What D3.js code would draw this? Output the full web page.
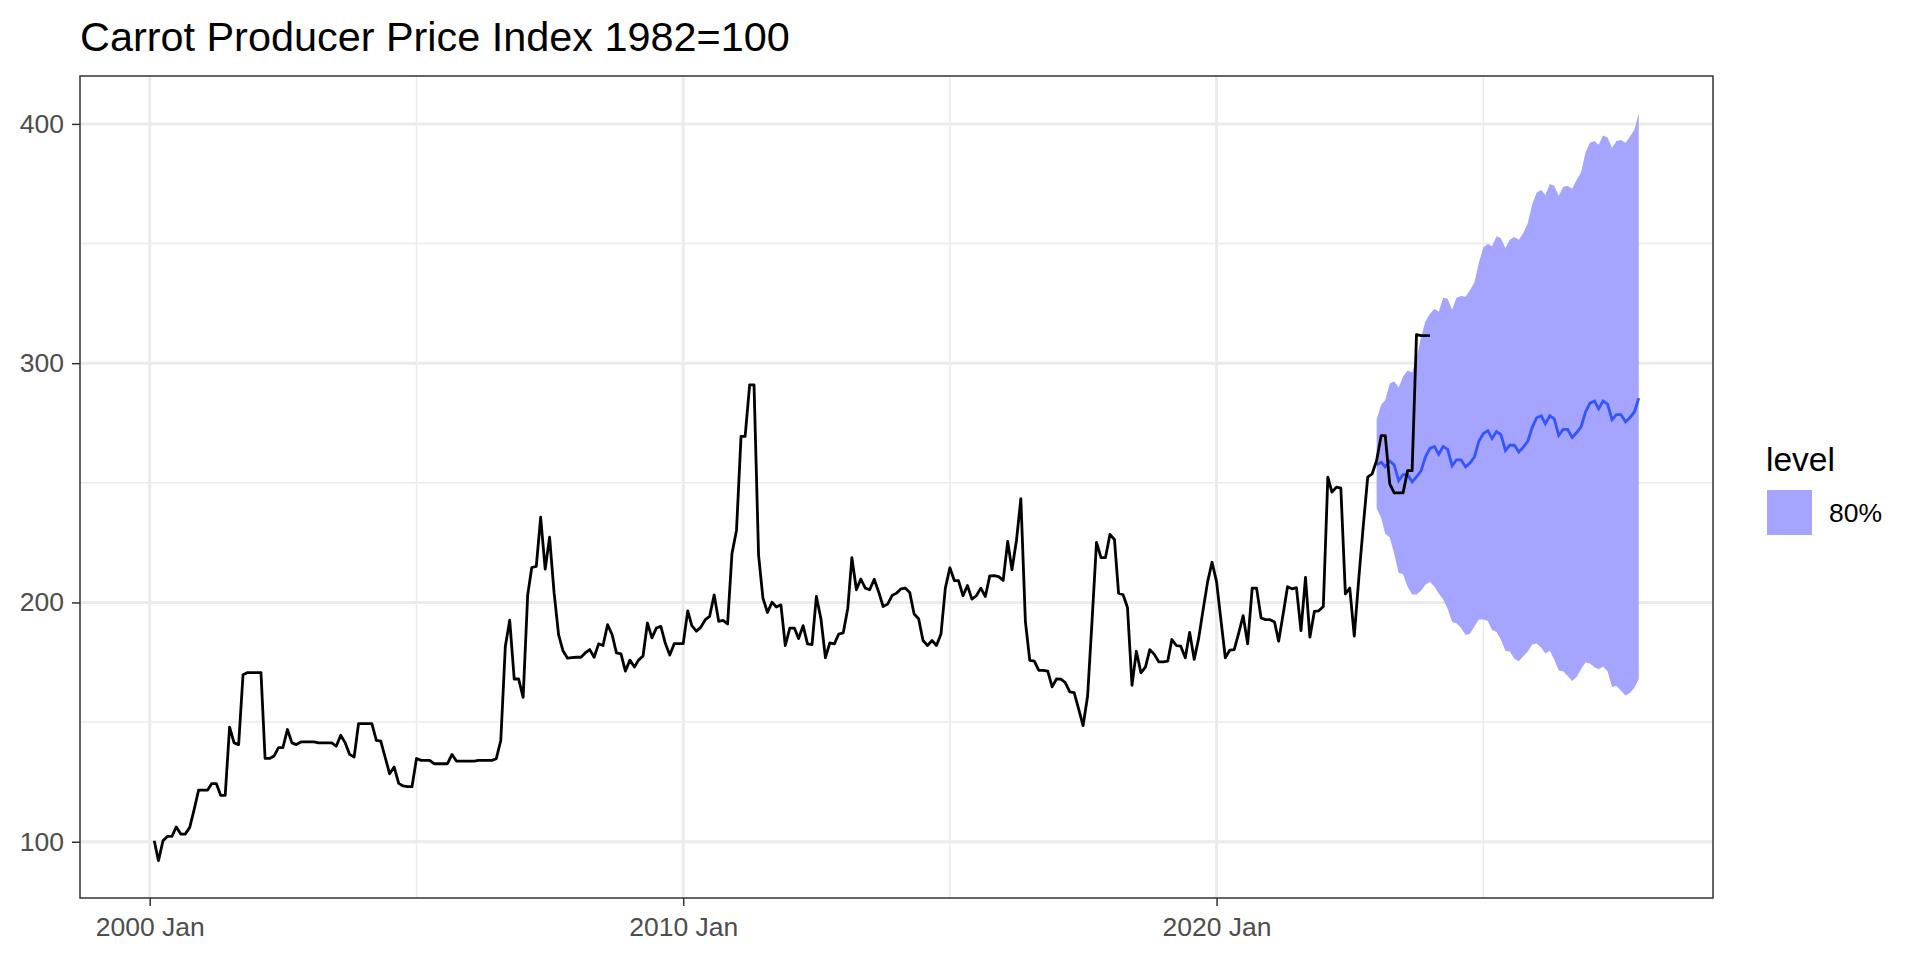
<!DOCTYPE html>
<html>
<head>
<meta charset="utf-8">
<script src="https://cdn.jsdelivr.net/npm/d3@7"></script>
<style>
  body { margin: 0; background: #fff; }
  text { font-family: "Liberation Sans", Arial, sans-serif; }
</style>
</head>
<body>
<svg id="chart" width="1920" height="960"></svg>
<script>
'use strict';

// Observed index, monthly, first value is 2000 Feb
var priceStart = '2000-02';
var priceValues = [
  100.4, 92.1, 100.4, 102.2, 102.2, 106.2, 103.2, 103.2, 106.0, 113.6,
  121.6, 121.6, 121.6, 124.3, 124.3, 119.4, 119.4, 147.9, 141.3, 140.6,
  169.8, 170.7, 170.7, 170.7, 170.7, 134.8, 134.8, 135.8, 139.3, 139.3,
  146.9, 141.3, 140.6, 141.7, 141.7, 141.7, 141.7, 141.3, 141.3, 141.3,
  141.3, 139.9, 144.5, 141.3, 136.5, 135.4, 149.4, 149.4, 149.4, 149.4,
  142.4, 142.0, 135.1, 128.4, 131.2, 124.4, 123.3, 123.0, 123.0, 134.8,
  134.0, 134.0, 134.0, 132.6, 132.6, 132.6, 132.6, 136.5, 133.7, 133.7,
  133.7, 133.7, 133.7, 134.0, 134.0, 134.0, 134.0, 134.7, 142.3, 181.6,
  192.6, 168.0, 168.0, 160.3, 203.0, 214.6, 215.1, 235.6, 213.9, 227.3,
  204.0, 186.4, 179.8, 176.7, 176.9, 177.1, 177.1, 178.9, 180.3, 177.1,
  182.7, 182.0, 190.7, 186.6, 178.9, 178.5, 171.3, 175.9, 173.0, 175.9,
  177.6, 191.4, 185.2, 189.3, 190.0, 182.8, 178.0, 182.8, 182.8, 182.8,
  196.5, 190.3, 188.0, 189.6, 192.8, 194.2, 203.2, 192.1, 192.5, 191.0,
  220.5, 230.2, 269.4, 269.4, 290.9, 290.9, 219.8, 201.8, 195.8, 200.1,
  198.1, 199.0, 182.0, 189.3, 189.3, 184.9, 190.3, 182.7, 182.4, 202.5,
  193.2, 176.9, 183.1, 182.7, 186.8, 187.3, 197.6, 218.7, 205.3, 209.8,
  206.0, 205.3, 209.7, 204.3, 198.3, 199.3, 202.9, 203.9, 205.7, 206.0,
  204.2, 195.2, 193.2, 184.1, 182.0, 184.1, 182.0, 186.8, 206.0, 214.5,
  209.1, 209.1, 202.8, 207.1, 201.4, 202.8, 206.0, 202.5, 211.1, 211.2,
  210.8, 209.2, 225.5, 213.6, 226.0, 243.4, 192.1, 175.8, 175.5, 171.6,
  171.6, 171.3, 164.7, 168.1, 167.9, 166.5, 162.6, 162.3, 155.4, 148.5,
  160.9, 192.8, 225.1, 218.7, 218.7, 228.4, 226.3, 203.9, 203.2, 197.9,
  165.4, 179.6, 170.6, 173.0, 180.3, 178.3, 175.2, 175.2, 175.5, 184.5,
  182.0, 181.7, 176.9, 187.5, 176.2, 185.2, 197.0, 208.7, 216.8, 208.7,
  192.1, 176.9, 180.1, 180.3, 187.3, 194.5, 182.7, 206.0, 206.0, 193.5,
  192.8, 192.8, 191.8, 183.8, 195.2, 206.6, 205.7, 206.2, 188.2, 210.5,
  185.5, 196.3, 196.5, 198.3, 252.4, 246.1, 248.2, 247.8, 203.6, 206.0,
  185.9, 210.1, 231.6, 252.4, 253.7, 259.3, 269.7, 269.7, 249.6, 245.8,
  245.8, 245.8, 255.1, 255.1, 311.9, 311.5, 311.5, 311.5
];

// Forecast, monthly from 2023 Jan to 2027 Dec
var forecastStart = '2023-01';
var forecastMean = [
  257.5, 258.6, 256.7, 259.1, 257.5, 250.9, 253.4, 253.4, 250.4, 252.5, 255.0, 260.8,
  264.4, 265.2, 261.9, 265.2, 264.0, 257.1, 259.6, 259.6, 256.7, 258.3, 260.8, 267.3,
  270.6, 271.8, 268.5, 271.4, 270.1, 263.5, 265.7, 265.7, 262.9, 264.9, 267.3, 273.1,
  277.2, 278.0, 274.7, 278.0, 276.7, 269.8, 272.3, 272.3, 269.0, 270.9, 273.4, 279.6,
  283.3, 284.2, 280.9, 284.2, 282.9, 276.4, 278.5, 278.5, 275.5, 277.2, 279.6, 285.4
];
// 80% interval
var forecastLower = [
  239.4, 235.3, 228.7, 227.1, 220.5, 212.3, 211.8, 206.6, 203.3, 203.3, 204.9, 207.4,
  208.7, 206.6, 203.8, 201.2, 197.5, 191.8, 191.3, 189.3, 186.4, 186.9, 190.1, 192.9,
  192.9, 192.3, 188.5, 187.7, 184.4, 179.8, 179.5, 176.5, 175.4, 177.5, 179.5, 182.4,
  182.8, 181.1, 178.7, 179.8, 176.2, 171.6, 171.3, 169.3, 167.2, 168.8, 172.1, 174.9,
  174.5, 172.9, 172.1, 173.2, 171.3, 164.7, 165.2, 163.1, 161.1, 162.2, 164.4, 168.0
];
var forecastUpper = [
  276.4, 282.6, 284.6, 291.5, 292.4, 289.8, 294.4, 296.9, 296.1, 301.8, 310.8, 317.4,
  320.7, 322.7, 321.5, 327.3, 326.9, 322.3, 327.3, 328.1, 327.8, 330.5, 333.8, 342.0,
  348.3, 349.9, 348.9, 353.0, 352.2, 348.1, 351.6, 352.7, 351.6, 354.4, 358.5, 366.3,
  371.3, 372.4, 370.3, 374.9, 374.1, 370.0, 373.6, 374.1, 372.9, 376.5, 379.8, 388.0,
  392.1, 392.9, 391.3, 395.1, 394.3, 390.0, 392.9, 393.3, 392.1, 394.6, 397.5, 404.4
];

var xMajorTicks = ['2000-01', '2010-01', '2020-01'];
var xMinorTicks = ['2005-01', '2015-01', '2025-01'];
var yMajorTicks = [100, 200, 300, 400];
var yMinorTicks = [150, 250, 350];
var levels = ['80%'];

var chartTitle = 'Carrot Producer Price Index 1982=100';

(function() {
  var parseMonth = d3.utcParse('%Y-%m');

  // Build the rows with one date per month
  var t0 = parseMonth(priceStart);
  var price = priceValues.map(function(v, i) {
    return { date: d3.utcMonth.offset(t0, i), value: v };
  });
  var f0 = parseMonth(forecastStart);
  var forecast = forecastMean.map(function(v, i) {
    return { date: d3.utcMonth.offset(f0, i), mean: v, lo: forecastLower[i], hi: forecastUpper[i] };
  });

  // Panel box
  var left = 80, right = 1713, top = 76, bottom = 898;

  // Scales with 5% padding, like ggplot
  var dates = price.map(function(d) { return d.date; }).concat(forecast.map(function(d) { return d.date; }));
  var xExt = d3.extent(dates);
  var xPad = (xExt[1] - xExt[0]) * 0.05;
  var x = d3.scaleUtc()
    .domain([new Date(+xExt[0] - xPad), new Date(+xExt[1] + xPad)])
    .range([left, right]);

  var allY = priceValues.concat(forecastLower, forecastUpper);
  var yExt = d3.extent(allY);
  var yPad = (yExt[1] - yExt[0]) * 0.05;
  var y = d3.scaleLinear()
    .domain([yExt[0] - yPad, yExt[1] + yPad])
    .range([bottom, top]);

  var svg = d3.select('#chart');

  // Title
  svg.append('text')
    .attr('x', left).attr('y', 51)
    .attr('font-size', 41.4).attr('fill', '#000')
    .text(chartTitle);

  // Grid
  var grid = svg.append('g');
  grid.selectAll('.ymin').data(yMinorTicks).enter().append('line')
    .attr('x1', left).attr('x2', right)
    .attr('y1', function(d) { return y(d); }).attr('y2', function(d) { return y(d); })
    .attr('stroke', '#ebebeb').attr('stroke-width', 1.5);
  grid.selectAll('.xmin').data(xMinorTicks).enter().append('line')
    .attr('y1', top).attr('y2', bottom)
    .attr('x1', function(d) { return x(parseMonth(d)); }).attr('x2', function(d) { return x(parseMonth(d)); })
    .attr('stroke', '#ebebeb').attr('stroke-width', 1.5);
  grid.selectAll('.ymaj').data(yMajorTicks).enter().append('line')
    .attr('x1', left).attr('x2', right)
    .attr('y1', function(d) { return y(d); }).attr('y2', function(d) { return y(d); })
    .attr('stroke', '#ebebeb').attr('stroke-width', 3);
  grid.selectAll('.xmaj').data(xMajorTicks).enter().append('line')
    .attr('y1', top).attr('y2', bottom)
    .attr('x1', function(d) { return x(parseMonth(d)); }).attr('x2', function(d) { return x(parseMonth(d)); })
    .attr('stroke', '#ebebeb').attr('stroke-width', 3);

  // Forecast band and mean
  var band = d3.area()
    .x(function(d) { return x(d.date); })
    .y0(function(d) { return y(d.lo); })
    .y1(function(d) { return y(d.hi); });
  svg.append('path').datum(forecast)
    .attr('d', band).attr('fill', '#a5a5ff');

  var meanLine = d3.line()
    .x(function(d) { return x(d.date); })
    .y(function(d) { return y(d.mean); });
  svg.append('path').datum(forecast)
    .attr('d', meanLine).attr('fill', 'none')
    .attr('stroke', '#3355ff').attr('stroke-width', 2.8);

  // Observed series
  var priceLine = d3.line()
    .x(function(d) { return x(d.date); })
    .y(function(d) { return y(d.value); });
  svg.append('path').datum(price)
    .attr('d', priceLine).attr('fill', 'none')
    .attr('stroke', '#000').attr('stroke-width', 2.8)
    .attr('stroke-linejoin', 'round');

  // Panel border
  svg.append('rect')
    .attr('x', left).attr('y', top)
    .attr('width', right - left).attr('height', bottom - top)
    .attr('fill', 'none').attr('stroke', '#333').attr('stroke-width', 1.5);

  // Axes
  var xAxis = d3.axisBottom(x)
    .tickValues(xMajorTicks.map(parseMonth))
    .tickFormat(d3.utcFormat('%Y %b'))
    .tickSize(8).tickPadding(11);
  var gx = svg.append('g').attr('transform', 'translate(0,' + bottom + ')').call(xAxis);

  var yAxis = d3.axisLeft(y)
    .tickValues(yMajorTicks)
    .tickSize(8).tickPadding(8);
  var gy = svg.append('g').attr('transform', 'translate(' + left + ',0)').call(yAxis);

  [gx, gy].forEach(function(g) {
    g.select('.domain').remove();
    g.selectAll('.tick line').attr('stroke', '#333').attr('stroke-width', 1.5);
    g.selectAll('.tick text')
      .attr('font-size', 26.5).attr('fill', '#4d4d4d')
      .attr('font-family', '"Liberation Sans", Arial, sans-serif');
  });

  // Legend
  var legend = svg.append('g').attr('transform', 'translate(1766,0)');
  legend.append('text')
    .attr('x', 0).attr('y', 471)
    .attr('font-size', 33.5).attr('fill', '#000')
    .text('level');
  var keys = legend.selectAll('.key').data(levels).enter().append('g')
    .attr('transform', function(d, i) { return 'translate(0,' + (490 + i * 45) + ')'; });
  keys.append('rect')
    .attr('x', 1).attr('y', 0).attr('width', 45).attr('height', 45)
    .attr('fill', '#a5a5ff');
  keys.append('text')
    .attr('x', 63).attr('y', 23).attr('dy', '0.35em')
    .attr('font-size', 26.5).attr('fill', '#000')
    .text(function(d) { return d; });
})();
</script>
</body>
</html>
